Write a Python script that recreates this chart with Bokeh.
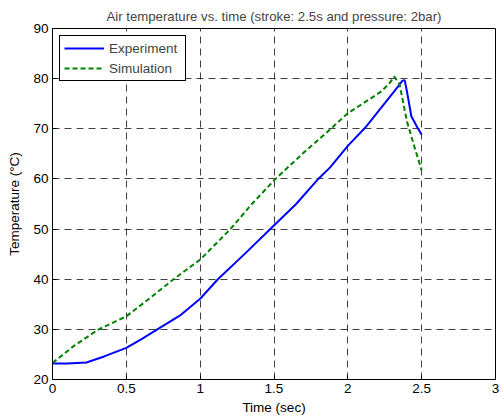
from bokeh.plotting import figure
from bokeh.models import FixedTicker, Legend, LegendItem
from bokeh.embed import file_html
from bokeh.resources import INLINE

title_text = "Air temperature vs. time (stroke: 2.5s and pressure: 2bar)"
x_label = "Time (sec)"
y_label = "Temperature (°C)"

x_ticks = [0, 0.5, 1, 1.5, 2, 2.5, 3]
y_ticks = [20, 30, 40, 50, 60, 70, 80, 90]

time_exp = [0, 0.1, 0.23, 0.35, 0.5, 0.6, 0.71, 0.87, 1.0, 1.12, 1.3, 1.475, 1.65,
            1.8, 1.88, 2.0, 2.12, 2.21, 2.31, 2.35, 2.37, 2.385, 2.40, 2.43, 2.47, 2.5]
temp_exp = [23.2, 23.2, 23.4, 24.6, 26.3, 28.0, 30.0, 32.9, 36.1, 40.0, 45.0, 50.0, 55.0,
            60.0, 62.3, 66.6, 70.3, 73.6, 77.3, 78.8, 79.6, 79.7, 77.5, 72.5, 70.3, 68.8]

time_sim = [0, 0.15, 0.313, 0.5, 0.65, 0.82, 1.0, 1.205, 1.35, 1.51, 1.7, 1.87, 2.0,
            2.1, 2.22, 2.28, 2.314, 2.35, 2.4, 2.45, 2.5]
temp_sim = [23.3, 26.8, 30.0, 32.6, 36.0, 40.0, 43.9, 50.0, 55.0, 60.0, 65.2, 69.6, 73.1,
            75.0, 77.3, 79.0, 80.4, 78.9, 71.5, 66.5, 61.7]

FONT = "Liberation Sans"

p = figure(frame_width=443, frame_height=351, x_range=(0, 3), y_range=(20, 90),
           output_backend="svg", toolbar_location=None,
           min_border_left=52, min_border_right=5, min_border_top=28, min_border_bottom=40,
           background_fill_color="white", border_fill_color="white")

p.title.text = title_text
p.title.align = "center"
p.title.text_font = FONT
p.title.text_font_size = "13.2px"
p.title.text_font_style = "normal"
p.title.standoff = 10
p.title.offset = 0

p.outline_line_color = "black"
p.outline_line_alpha = 1.0
p.outline_line_width = 1

for ax in (p.xaxis[0], p.yaxis[0]):
    ax.axis_line_color = "black"
    ax.major_tick_in = 4
    ax.major_tick_out = 0
    ax.minor_tick_line_color = None
    ax.major_label_text_font = FONT
    ax.major_label_text_font_size = "13.5px"
    ax.major_label_text_color = "black"
    ax.axis_label_text_font = FONT
    ax.axis_label_text_font_size = "13.5px"
    ax.axis_label_text_font_style = "normal"
    ax.axis_label_text_color = "black"
    ax.major_label_standoff = 4

p.xaxis[0].ticker = FixedTicker(ticks=x_ticks)
p.yaxis[0].ticker = FixedTicker(ticks=y_ticks)
p.xaxis[0].axis_label = x_label
p.yaxis[0].axis_label = y_label
p.xaxis[0].axis_label_standoff = 4
p.yaxis[0].axis_label_standoff = 8

for g in (p.xgrid[0], p.ygrid[0]):
    g.grid_line_color = "black"
    g.grid_line_alpha = 0.75
    g.grid_line_dash = "7 5"
    g.grid_line_width = 1

r_exp = p.line(time_exp, temp_exp, line_color="#0000ff", line_width=2)
r_sim = p.line(time_sim, temp_sim, line_color="#008000", line_width=2, line_dash="5 3")

legend = Legend(items=[LegendItem(label="Experiment", renderers=[r_exp]),
                       LegendItem(label="Simulation", renderers=[r_sim])],
                location="top_left")
legend.label_text_font = FONT
legend.label_text_font_size = "13.5px"
legend.border_line_color = "black"
legend.border_line_alpha = 1.0
legend.border_line_width = 1
legend.background_fill_alpha = 1.0
legend.glyph_width = 40
legend.glyph_height = 16
legend.label_height = 16
legend.label_width = 72
legend.label_standoff = 5
legend.spacing = 4
legend.padding = 4
legend.margin = 7
p.add_layout(legend, "center")

open("out.html", "w").write(file_html(p, INLINE))
